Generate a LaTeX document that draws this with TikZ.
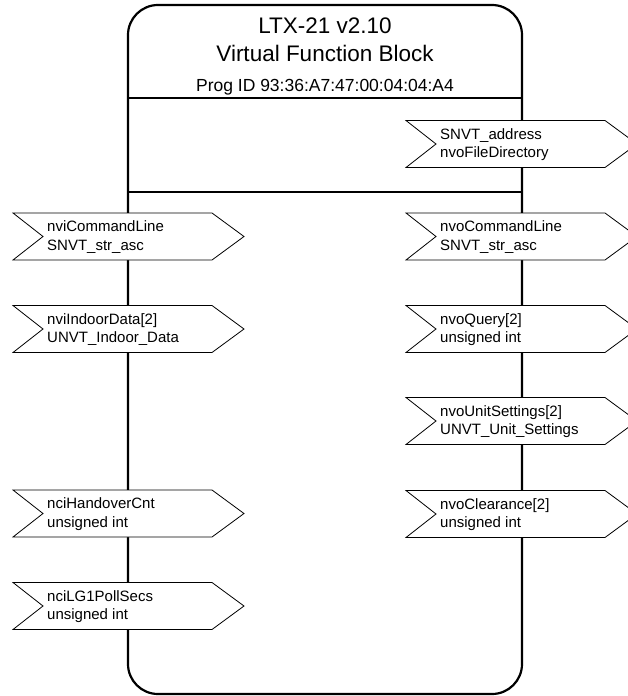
\documentclass[tikz,border=0pt]{standalone}
\usepackage{fontspec}
\setmainfont{Liberation Sans}
\begin{document}
\begin{tikzpicture}[x=1pt,y=-1pt,
  blockline/.style={draw=black,line width=2.2pt},
  pinline/.style={draw=black,fill=white,line width=0.8pt,line join=miter},
  pintext/.style={anchor=west,align=left,inner sep=0pt,font=\fontsize{15}{18.5}\selectfont},
  titletext/.style={anchor=base,inner sep=0pt,font=\fontsize{22.5}{26}\selectfont},
  progtext/.style={anchor=base,inner sep=0pt,font=\fontsize{17.5}{20}\selectfont}]
\useasboundingbox (0,0) rectangle (627,696);

% function block outline and section dividers
\draw[blockline,rounded corners=30pt] (128,5) rectangle (522,694);
\draw[blockline] (128,98) -- (522,98);
\draw[blockline] (128,192) -- (522,192);

% header
\node[titletext] (title) at (325,33) {LTX-21 v2.10};
\node[titletext] (subtitle) at (325,61) {Virtual Function Block};
\node[progtext] (progid) at (325,91) {Prog ID 93:36:A7:47:00:04:04:A4};

% network variable pin: name, left x, middle y, first line, second line
\newcommand\vfbpin[5]{%
  \filldraw[pinline] (#2,#3-23.5) -- ++(199,0) -- ++(32,23.5) -- ++(-32,23.5)
    -- ++(-199,0) -- ++(30,-23.5) -- cycle;
  \node[pintext] (#1) at (#2+34,#3+0.5) {#4\\#5};
}

% inputs
\vfbpin{nviCmd}{13}{236.5}{nviCommandLine}{SNVT\_str\_asc}
\vfbpin{nviIndoor}{13}{329}{nviIndoorData[2]}{UNVT\_Indoor\_Data}
\vfbpin{nciHandover}{13}{513.5}{nciHandoverCnt}{unsigned int}
\vfbpin{nciPoll}{13}{606}{nciLG1PollSecs}{unsigned int}

% outputs
\vfbpin{nvoFileDir}{406}{144}{SNVT\_address}{nvoFileDirectory}
\vfbpin{nvoCmd}{406}{236.5}{nvoCommandLine}{SNVT\_str\_asc}
\vfbpin{nvoQuery}{406}{329}{nvoQuery[2]}{unsigned int}
\vfbpin{nvoUnit}{406}{421}{nvoUnitSettings[2]}{UNVT\_Unit\_Settings}
\vfbpin{nvoClear}{406}{514}{nvoClearance[2]}{unsigned int}
\end{tikzpicture}
\end{document}
